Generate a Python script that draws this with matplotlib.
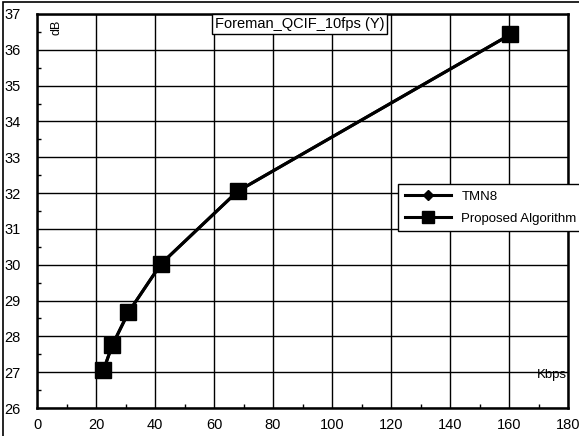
import matplotlib
matplotlib.use("Agg")
import matplotlib.pyplot as plt
from matplotlib.patches import Rectangle
from matplotlib.ticker import MultipleLocator

plt.rcParams['font.family'] = ['Liberation Sans', 'DejaVu Sans']

# data (Kbps, dB)
rate = [22.5, 25.5, 31.0, 42.0, 68.0, 160.5]
tmn8 = [27.05, 27.75, 28.67, 30.02, 32.05, 36.43]
proposed = [27.05, 27.75, 28.67, 30.02, 32.05, 36.43]
x_ticks = [0, 20, 40, 60, 80, 100, 120, 140, 160, 180]
y_ticks = [26, 27, 28, 29, 30, 31, 32, 33, 34, 35, 36, 37]

fig = plt.figure(figsize=(5.79, 4.36), dpi=100)
ax = fig.add_axes([37 / 579, 28 / 436, 531 / 579, 394 / 436])

ax.plot(rate, tmn8, color='black', lw=2.2, marker='D', ms=7, label='TMN8', zorder=3)
ax.plot(rate, proposed, color='black', lw=2.2, marker='s', ms=11, label='Proposed Algorithm', zorder=4)

ax.set_xlim(0, 180)
ax.set_ylim(26, 37)
ax.set_xticks(x_ticks)
ax.set_yticks(y_ticks)
ax.xaxis.set_minor_locator(MultipleLocator(10))
ax.yaxis.set_minor_locator(MultipleLocator(0.5))
ax.grid(True, which='major', color='black', lw=1.0)
ax.tick_params(which='major', length=0, labelsize=10.5)
ax.tick_params(which='minor', direction='in', length=3, width=1)
ax.tick_params(axis='x', pad=7)
# pad is in points: ~33 px from the axis to the frame line
ax.tick_params(axis='y', pad=23.5)
ax.set_yticklabels([str(v) for v in y_ticks], ha='left')
for s in ax.spines.values():
    s.set_linewidth(1.8)

ax.text(0.335, 0.993, 'Foreman_QCIF_10fps (Y)', transform=ax.transAxes, fontsize=10.5,
        ha='left', va='top',
        bbox=dict(boxstyle='square,pad=0.2', fc='white', ec='black', lw=1))
ax.text(0.025, 0.985, 'dB', transform=ax.transAxes, fontsize=9, rotation=90, ha='left', va='top')
ax.text(0.998, 0.085, 'Kbps', transform=ax.transAxes, fontsize=9.5, ha='right', va='center')

leg = ax.legend(loc='upper left', bbox_to_anchor=(0.68, 0.568), frameon=True, fancybox=False,
                edgecolor='black', fontsize=9.5, handlelength=3.5, markerscale=0.8,
                borderaxespad=0, framealpha=1, labelspacing=0.7, borderpad=0.5)
leg.get_frame().set_linewidth(1.0)

fig.patches.append(Rectangle((3 / 579, -0.1), 1.2, 1.095, transform=fig.transFigure,
                             fill=False, ec='black', lw=1.2))

fig.savefig('out.png', dpi=100)
